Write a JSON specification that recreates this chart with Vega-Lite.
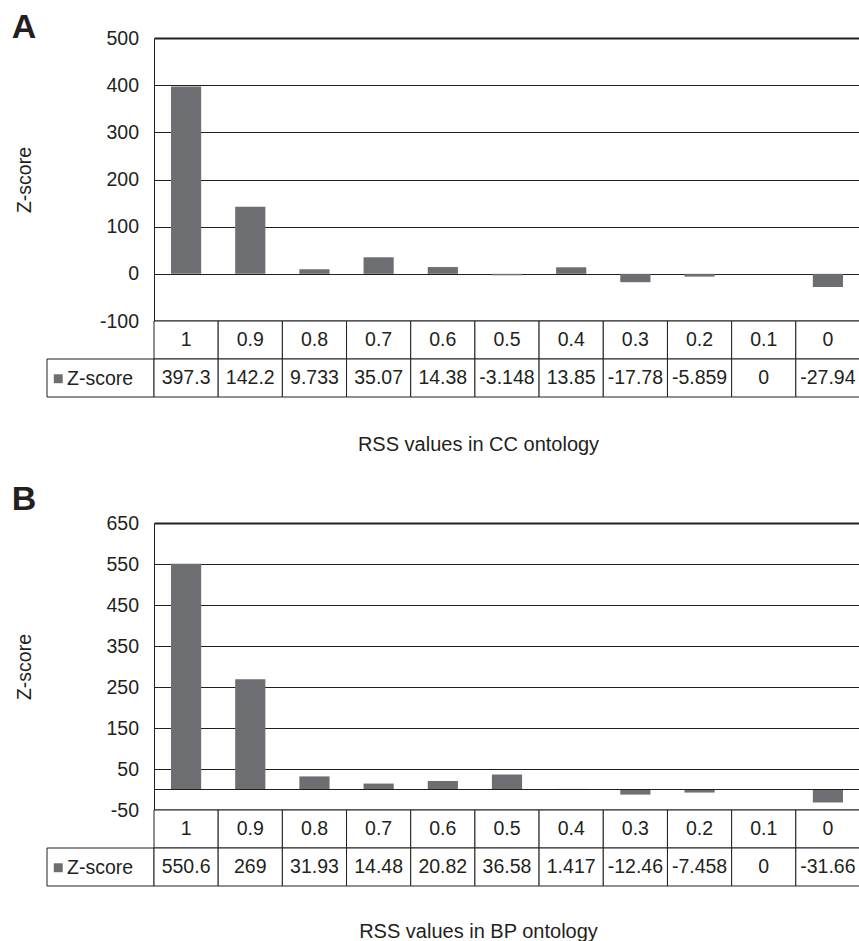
{
  "$schema": "https://vega.github.io/schema/vega-lite/v6.json",
  "background": "white",
  "padding": {"left": 11, "top": 10, "right": 0, "bottom": 0},
  "config": {
    "font": "Liberation Sans",
    "view": {"stroke": null},
    "axis": {"labelFont": "Liberation Sans", "titleFont": "Liberation Sans"},
    "legend": {"labelFont": "Liberation Sans"}
  },
  "datasets": {
    "cc": [
      {"rss": "1", "z": 397.3}, {"rss": "0.9", "z": 142.2}, {"rss": "0.8", "z": 9.733},
      {"rss": "0.7", "z": 35.07}, {"rss": "0.6", "z": 14.38}, {"rss": "0.5", "z": -3.148},
      {"rss": "0.4", "z": 13.85}, {"rss": "0.3", "z": -17.78}, {"rss": "0.2", "z": -5.859},
      {"rss": "0.1", "z": 0}, {"rss": "0", "z": -27.94}
    ],
    "bp": [
      {"rss": "1", "z": 550.6}, {"rss": "0.9", "z": 269}, {"rss": "0.8", "z": 31.93},
      {"rss": "0.7", "z": 14.48}, {"rss": "0.6", "z": 20.82}, {"rss": "0.5", "z": 36.58},
      {"rss": "0.4", "z": 1.417}, {"rss": "0.3", "z": -12.46}, {"rss": "0.2", "z": -7.458},
      {"rss": "0.1", "z": 0}, {"rss": "0", "z": -31.66}
    ],
    "leg": [{"s": "Z-score"}]
  },
  "resolve": {"scale": {"color": "independent"}, "legend": {"color": "independent"}},
  "columns": 2,
  "align": "each",
  "bounds": "flush",
  "spacing": {"row": 0, "column": 0},
  "concat": [
    {"width": 107, "height": 283, "data": {"name": "leg"}, "mark": {"type": "text", "text": ""}, "encoding": {}},
    {
      "width": 706, "height": 283,
      "data": {"name": "cc"},
      "title": {"text": "A", "anchor": "start", "frame": "group", "fontSize": 34, "fontWeight": "bold", "color": "#231f20", "dx": -142.3, "offset": 0, "baseline": "alphabetic", "dy": 43.6},
      "layer": [
        {
          "mark": {"type": "bar", "color": "#6d6e71"},
          "encoding": {
            "x": {"field": "rss", "type": "nominal", "sort": null, "scale": {"paddingInner": 0.53, "paddingOuter": 0.265}, "axis": null},
            "y": {"field": "z", "type": "quantitative", "scale": {"domain": [-100, 500], "nice": false},
              "axis": {"values": [-100, 0, 100, 200, 300, 400, 500], "grid": true, "gridColor": "#231f20",
                "gridWidth": {"condition": {"test": "datum.value == -100 || datum.value == 500", "value": 2}, "value": 1},
                "gridOpacity": 1, "domain": true, "domainColor": "#231f20", "domainWidth": 1,
                "ticks": false, "tickSize": 0, "labelPadding": 15.5, "labelFontSize": 19.5, "labelColor": "#231f20",
                "labelExpr": "'' + datum.value",
                "title": "Z-score", "titleFontSize": 19.5, "titleFontWeight": "normal", "titleColor": "#231f20",
                "titleX": -124, "titleY": 141.5, "titleBaseline": "alphabetic", "titleAlign": "center", "titleAngle": -90}}
          }
        }
      ]
    },
    {
      "width": 107, "height": 76,
      "data": {"name": "leg"},
      "layer": [
        {
          "mark": {"type": "rect", "fill": "white", "stroke": "#231f20", "strokeWidth": 1},
          "encoding": {
            "x": {"datum": "c", "type": "nominal", "scale": {"paddingInner": 0, "paddingOuter": 0}, "axis": null},
            "y": {"datum": "v", "type": "nominal", "scale": {"domain": ["h", "v"], "paddingInner": 0, "paddingOuter": 0}, "axis": null}
          }
        },
        {
          "mark": {"type": "point", "filled": true, "opacity": 0},
          "encoding": {
            "x": {"datum": "c", "type": "nominal", "axis": null},
            "y": {"datum": "v", "type": "nominal", "axis": null},
            "color": {"field": "s", "type": "nominal", "scale": {"range": ["#6d6e71"]},
              "legend": {"orient": "none", "legendX": 1.5, "legendY": 48, "title": null, "symbolType": "square", "symbolSize": 80,
                "symbolOpacity": 1, "symbolStrokeWidth": 0, "labelFontSize": 19.5, "labelColor": "#231f20", "labelOffset": -1, "padding": 0}}
          }
        }
      ]
    },
    {
      "width": 706, "height": 76,
      "data": {"name": "cc"},
      "encoding": {
        "x": {"field": "rss", "type": "nominal", "sort": null, "scale": {"paddingInner": 0, "paddingOuter": 0},
          "axis": {"labels": false, "ticks": false, "domain": false, "grid": false, "title": "RSS values in CC ontology",
            "titleX": 324, "titleY": 53, "titleBaseline": "alphabetic", "titleFontSize": 20, "titleFontWeight": "normal", "titleColor": "#231f20"}}
      },
      "layer": [
        {"mark": {"type": "rect", "fill": "white", "stroke": "#231f20", "strokeWidth": 1},
          "encoding": {"y": {"datum": "h", "type": "nominal", "scale": {"domain": ["h", "v"], "paddingInner": 0, "paddingOuter": 0}, "axis": null}}},
        {"mark": {"type": "rect", "fill": "white", "stroke": "#231f20", "strokeWidth": 1},
          "encoding": {"y": {"datum": "v", "type": "nominal", "axis": null}}},
        {"mark": {"type": "text", "fontSize": 19.5, "color": "#231f20"},
          "encoding": {"y": {"datum": "h", "type": "nominal", "axis": null}, "text": {"field": "rss", "type": "nominal"}}},
        {"mark": {"type": "text", "fontSize": 19.5, "color": "#231f20"},
          "encoding": {"y": {"datum": "v", "type": "nominal", "axis": null}, "text": {"field": "z", "type": "nominal"}}}
      ]
    },
    {"width": 107, "height": 126, "data": {"name": "leg"}, "mark": {"type": "text", "text": ""}, "encoding": {}},
    {"width": 706, "height": 126, "data": {"name": "leg"}, "mark": {"type": "text", "text": ""}, "encoding": {}},
    {"width": 107, "height": 287, "data": {"name": "leg"}, "mark": {"type": "text", "text": ""}, "encoding": {}},
    {
      "width": 706, "height": 287,
      "data": {"name": "bp"},
      "title": {"text": "B", "anchor": "start", "frame": "group", "fontSize": 34, "fontWeight": "bold", "color": "#231f20", "dx": -142.3, "offset": 0, "baseline": "alphabetic", "dy": 30.6},
      "layer": [
        {
          "mark": {"type": "bar", "color": "#6d6e71"},
          "encoding": {
            "x": {"field": "rss", "type": "nominal", "sort": null, "scale": {"paddingInner": 0.53, "paddingOuter": 0.265}, "axis": null},
            "y": {"field": "z", "type": "quantitative", "scale": {"domain": [-50, 650], "nice": false},
              "axis": {"values": [-50, 50, 150, 250, 350, 450, 550, 650], "grid": true, "gridColor": "#231f20",
                "gridWidth": {"condition": {"test": "datum.value == -50 || datum.value == 650", "value": 2}, "value": 1},
                "gridOpacity": 1, "domain": true, "domainColor": "#231f20", "domainWidth": 1,
                "ticks": false, "tickSize": 0, "labelPadding": 15.5, "labelFontSize": 19.5, "labelColor": "#231f20",
                "labelExpr": "'' + datum.value",
                "title": "Z-score", "titleFontSize": 19.5, "titleFontWeight": "normal", "titleColor": "#231f20",
                "titleX": -124, "titleY": 143.5, "titleBaseline": "alphabetic", "titleAlign": "center", "titleAngle": -90}}
          }
        },
        {
          "mark": {"type": "rule", "color": "#231f20", "strokeWidth": 1},
          "encoding": {"y": {"datum": 0, "type": "quantitative"}}
        }
      ]
    },
    {
      "width": 107, "height": 76,
      "data": {"name": "leg"},
      "layer": [
        {
          "mark": {"type": "rect", "fill": "white", "stroke": "#231f20", "strokeWidth": 1},
          "encoding": {
            "x": {"datum": "c", "type": "nominal", "scale": {"paddingInner": 0, "paddingOuter": 0}, "axis": null},
            "y": {"datum": "v", "type": "nominal", "scale": {"domain": ["h", "v"], "paddingInner": 0, "paddingOuter": 0}, "axis": null}
          }
        },
        {
          "mark": {"type": "point", "filled": true, "opacity": 0},
          "encoding": {
            "x": {"datum": "c", "type": "nominal", "axis": null},
            "y": {"datum": "v", "type": "nominal", "axis": null},
            "color": {"field": "s", "type": "nominal", "scale": {"range": ["#6d6e71"]},
              "legend": {"orient": "none", "legendX": 1.5, "legendY": 48, "title": null, "symbolType": "square", "symbolSize": 80,
                "symbolOpacity": 1, "symbolStrokeWidth": 0, "labelFontSize": 19.5, "labelColor": "#231f20", "labelOffset": -1, "padding": 0}}
          }
        }
      ]
    },
    {
      "width": 706, "height": 76,
      "data": {"name": "bp"},
      "encoding": {
        "x": {"field": "rss", "type": "nominal", "sort": null, "scale": {"paddingInner": 0, "paddingOuter": 0},
          "axis": {"labels": false, "ticks": false, "domain": false, "grid": false, "title": "RSS values in BP ontology",
            "titleX": 324, "titleY": 51, "titleBaseline": "alphabetic", "titleFontSize": 20, "titleFontWeight": "normal", "titleColor": "#231f20"}}
      },
      "layer": [
        {"mark": {"type": "rect", "fill": "white", "stroke": "#231f20", "strokeWidth": 1},
          "encoding": {"y": {"datum": "h", "type": "nominal", "scale": {"domain": ["h", "v"], "paddingInner": 0, "paddingOuter": 0}, "axis": null}}},
        {"mark": {"type": "rect", "fill": "white", "stroke": "#231f20", "strokeWidth": 1},
          "encoding": {"y": {"datum": "v", "type": "nominal", "axis": null}}},
        {"mark": {"type": "text", "fontSize": 19.5, "color": "#231f20"},
          "encoding": {"y": {"datum": "h", "type": "nominal", "axis": null}, "text": {"field": "rss", "type": "nominal"}}},
        {"mark": {"type": "text", "fontSize": 19.5, "color": "#231f20"},
          "encoding": {"y": {"datum": "v", "type": "nominal", "axis": null}, "text": {"field": "z", "type": "nominal"}}}
      ]
    }
  ]
}
